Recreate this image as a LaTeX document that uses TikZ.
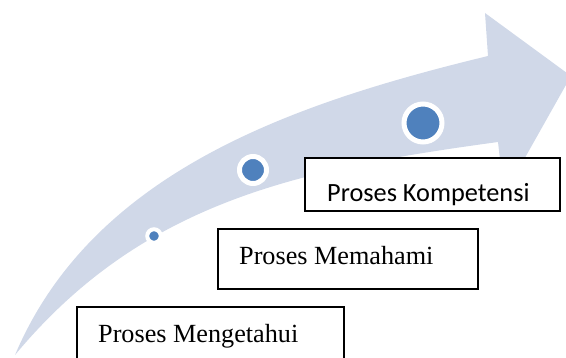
\documentclass[tikz,border=0pt]{standalone}
\usepackage{fontspec}
\setmainfont{Liberation Serif}
\newfontfamily\calib{Carlito}
\usetikzlibrary{calc}
\definecolor{arrowfill}{HTML}{D0D8E8}
\definecolor{dotblue}{HTML}{4F81BD}
\tikzset{
  stagebox/.style={draw=black, line width=1.6pt, fill=white, rectangle, inner sep=0pt, anchor=north west},
  seriftxt/.style={anchor=base west, inner sep=0pt, font=\fontsize{26.2}{30}\selectfont},
  sanstxt/.style={anchor=base west, inner sep=0pt, font=\calib\fontsize{26.3}{30}\selectfont},
  dotmark/.style={circle, fill=dotblue, draw=white, inner sep=0pt}
}
\begin{document}
\begin{tikzpicture}[x=1pt, y=-1pt]
\useasboundingbox (0,0) rectangle (566,358);
\clip (0,0) rectangle (566,358);
% curved arrow
\fill[arrowfill] (15,355) .. controls (93,171) and (294,103) .. (488,56)
  -- (485,13) -- (571,76) -- (504,195) -- (498,142)
  .. controls (300,169) and (143,201) .. (15,355) -- cycle;
% dots
\node[dotmark, minimum size=13.5pt, line width=4pt] (d1) at (154,236) {};
\node[dotmark, minimum size=27pt, line width=5pt] (d2) at (253,170) {};
\node[dotmark, minimum size=38pt, line width=5pt] (d3) at (423,123) {};
% boxes
\node[stagebox, minimum width=255pt, minimum height=53pt] (b3) at (304,157) {};
\node[stagebox, minimum width=260pt, minimum height=60pt] (b2) at (217,228) {};
\node[stagebox, minimum width=267pt, minimum height=60pt] (b1) at (76,306) {};
% texts
\node[sanstxt] (t3) at ($(b3.north west)+(23,45)$) {Proses Kompetensi};
\node[seriftxt] (t2) at ($(b2.north west)+(22,37)$) {Proses Memahami};
\node[seriftxt] (t1) at ($(b1.north west)+(22,37)$) {Proses Mengetahui};
\end{tikzpicture}
\end{document}
